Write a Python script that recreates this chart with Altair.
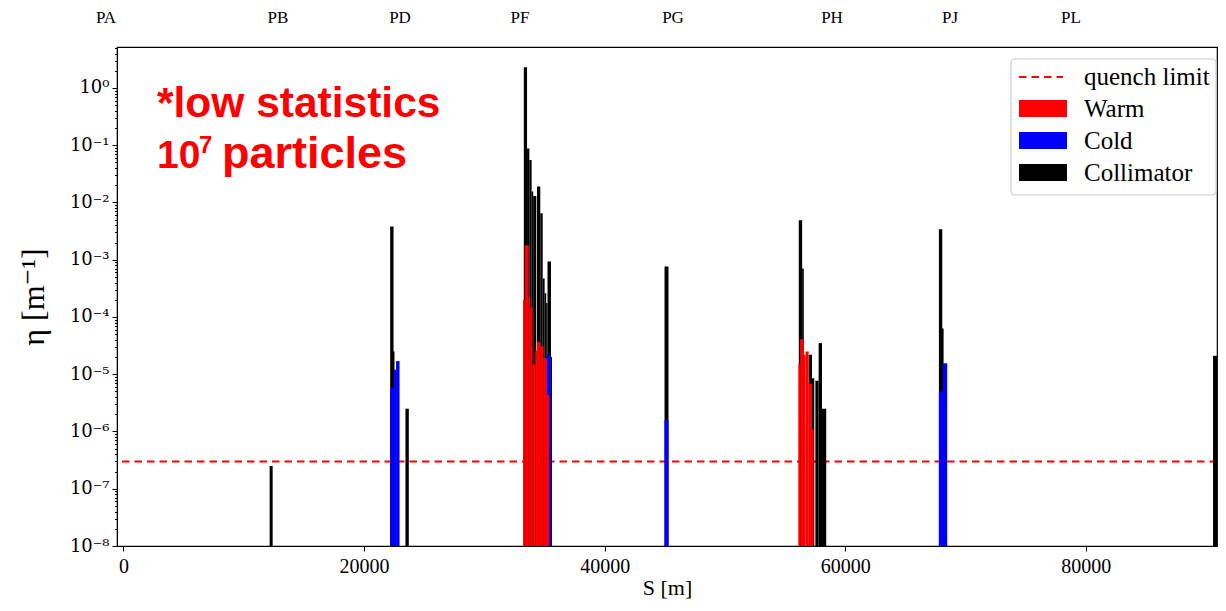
import altair as alt
import pandas as pd

# ---------------- data ----------------
col_s0 = [12150, 22170, 22310, 23440, 33280, 33550, 33740, 33930, 34060, 34380, 34650, 34850, 35010, 35140,
          35250, 35540, 44980, 56140, 56420, 56960, 57240, 57520, 57790, 58070, 67790, 67990, 90580]
col_s1 = [12400, 22450, 22530, 23720, 33550, 33740, 33930, 34060, 34320, 34650, 34850, 35010, 35140, 35250,
          35540, 35620, 45310, 56420, 56560, 57240, 57430, 57790, 58070, 58420, 68070, 68180, 90910]
col_val = [2.5e-7, 3.8e-3, 2.5e-5, 2.5e-6, 2.3, 0.088, 0.055, 0.0155, 0.013, 0.019, 0.0065, 4.7e-4, 2.6e-4,
           1.75e-4, 9.3e-4, 2e-5, 7.6e-4, 4.9e-3, 7e-4, 2.2e-5, 8.5e-6, 7.7e-6, 3.5e-5, 2.5e-6, 3.4e-3,
           6.3e-5, 2.1e-5]

cold_s0 = [22170, 22470, 22660, 35200, 44980, 67790, 68120]
cold_s1 = [22470, 22660, 22950, 35540, 45310, 68120, 68480]
cold_val = [5.8e-6, 1.2e-5, 1.7e-5, 2.2e-5, 1.6e-6, 5e-6, 1.55e-5]

warm_s0 = [33220, 33360, 33690, 33820, 34010, 34230, 34380, 34650, 34930, 35200,
           56110, 56250, 56560, 56700, 56960, 57240]
warm_s1 = [33360, 33690, 33820, 34010, 34230, 34380, 34650, 34930, 35200, 35390,
           56250, 56560, 56700, 56960, 57240, 57380]
warm_val = [2e-4, 1.8e-3, 2.2e-4, 1.5e-4, 1.5e-5, 2.6e-5, 3.7e-5, 3.1e-5, 1.9e-5, 4.4e-6,
            1.5e-5, 4.1e-5, 2.2e-5, 2.5e-5, 6.9e-6, 1.1e-6]

quench_limit = 3e-7
baseline = 1e-8

ip_names = ["PA", "PB", "PD", "PF", "PG", "PH", "PJ", "PL"]
ip_s = [-1455, 12845, 22988, 32965, 45685, 58904, 68714, 78774]

x_ticks = [0, 20000, 40000, 60000, 80000]
legend_labels = ["quench limit", "Warm", "Cold", "Collimator"]

note_text = ["*low statistics", "10", "7", "particles"]
note_s = [2785, 2785, 6277, 8189]
note_val = [0.31, 0.040, 0.074, 0.040]
note_size = [42.5, 39, 24, 45]

# ---------------- tables ----------------
bars = pd.concat([
    pd.DataFrame({"s0": col_s0, "s1": col_s1, "val": col_val, "kind": "Collimator"}),
    pd.DataFrame({"s0": cold_s0, "s1": cold_s1, "val": cold_val, "kind": "Cold"}),
    pd.DataFrame({"s0": warm_s0, "s1": warm_s1, "val": warm_val, "kind": "Warm"}),
], ignore_index=True)

y_ticks = []
for e in range(-8, 1):
    for k in range(1, 10):
        v = k * 10.0 ** e
        if v <= 5.2:
            y_ticks.append(v)

SERIF = "Liberation Serif, DejaVu Serif"
SANS = "Liberation Sans, Arial"

is_major = "abs(log(datum.value)/LN10 - round(log(datum.value)/LN10)) < 0.001"
lab_expr = (is_major + " ? '10' + (round(log(datum.value)/LN10) < 0 ? '\u207b' : '') + "
            "['\u2070','\u00b9','\u00b2','\u00b3','\u2074','\u2075','\u2076','\u2077','\u2078','\u2079']"
            "[abs(round(log(datum.value)/LN10))] : ''")

xscale = alt.Scale(domain=[-540, 90910], nice=False, zero=False)
yscale = alt.Scale(type="log", domain=[baseline, 5.2], nice=False)

xaxis = alt.Axis(values=x_ticks, format="d", grid=False, tickSize=5, labelPadding=5,
                 labelFont=SERIF, labelFontSize=20, labelColor="black", labelFlush=False,
                 titleFont=SERIF, titleFontSize=22, titleFontWeight="normal", titleColor="black",
                 titlePadding=1, domainColor="black", tickColor="black")
yaxis = alt.Axis(values=y_ticks, labelExpr=lab_expr, grid=False,
                 tickSize={"condition": {"test": is_major, "value": 5}, "value": 2.5},
                 labelPadding=3, labelFont="DejaVu Serif", labelFontSize=18, labelColor="black",
                 labelFlush=False, labelOverlap=False,
                 titleFont=SERIF, titleFontSize=32, titleFontWeight="normal", titleColor="black",
                 titlePadding=19, domainColor="black", tickColor="black")

XT = "S  [m]"
YT = "\u03b7  [m\u207b\u00b9]"


def X(f):
    return alt.X(f, scale=xscale, axis=xaxis, title=XT)


def Y(f):
    return alt.Y(f, scale=yscale, axis=yaxis, title=YT)


quench = alt.Chart(pd.DataFrame({"q": [quench_limit]})).mark_rule(
    color="#ff0000", strokeDash=[7.5, 5], strokeWidth=2).encode(y=Y("q:Q"))

bar_layer = alt.Chart(bars).mark_rect().encode(
    x=X("s0:Q"), x2="s1:Q", y=Y("val:Q"), y2=alt.datum(baseline),
    color=alt.Color("kind:N", scale=alt.Scale(domain=["Warm", "Cold", "Collimator"],
                                               range=["#ff0000", "#0000ff", "#000000"]), legend=None),
)

ip_layer = alt.Chart(pd.DataFrame({"name": ip_names, "s": ip_s})).mark_text(
    font=SERIF, fontSize=17, color="black", align="center", baseline="middle").encode(
    x=X("s:Q"), y=alt.value(-29), text="name:N")

notes = pd.DataFrame({"t": note_text, "s": note_s, "v": note_val, "size": note_size})
note_layer = alt.Chart(notes).mark_text(
    font=SANS, fontWeight="bold", color="#ff0000", align="left", baseline="alphabetic").encode(
    x=X("s:Q"), y=Y("v:Q"), text="t:N", size=alt.Size("size:Q", scale=None, legend=None))

# ---------------- legend (drawn box) ----------------
one = pd.DataFrame({"a": [0]})
leg_box = alt.Chart(one).mark_rect(fill="white", fillOpacity=0.85, stroke="#cccccc", strokeWidth=1.2,
                                   cornerRadius=4).encode(
    x=alt.value(894), x2=alt.value(1099), y=alt.value(12), y2=alt.value(148))
leg_dash = alt.Chart(one).mark_rule(color="#ff0000", strokeDash=[7.5, 5], strokeWidth=2).encode(
    x=alt.value(902), x2=alt.value(946), y=alt.value(30))
leg_red = alt.Chart(one).mark_rect(color="#ff0000").encode(
    x=alt.value(902), x2=alt.value(950), y=alt.value(53), y2=alt.value(70))
leg_blue = alt.Chart(one).mark_rect(color="#0000ff").encode(
    x=alt.value(902), x2=alt.value(950), y=alt.value(85), y2=alt.value(102))
leg_black = alt.Chart(one).mark_rect(color="#000000").encode(
    x=alt.value(902), x2=alt.value(950), y=alt.value(117), y2=alt.value(134))
leg_texts = []
for lab, yy in zip(legend_labels, [30, 62, 94, 126]):
    leg_texts.append(alt.Chart(pd.DataFrame({"t": [lab]})).mark_text(
        font=SERIF, fontSize=25, color="black", align="left", baseline="middle").encode(
        x=alt.value(967), y=alt.value(yy), text="t:N"))

chart = alt.layer(
    quench, bar_layer, ip_layer, note_layer,
    leg_box, leg_dash, leg_red, leg_blue, leg_black, *leg_texts
).properties(
    width=1100, height=499,
    padding={"left": 109, "top": 39, "right": 1, "bottom": 54},
    autosize=alt.AutoSizeParams(type="none"),
    background="white",
).configure_view(stroke="black", strokeWidth=1.2)

chart.save("out.html", embed_options={"renderer": "svg", "actions": False})
